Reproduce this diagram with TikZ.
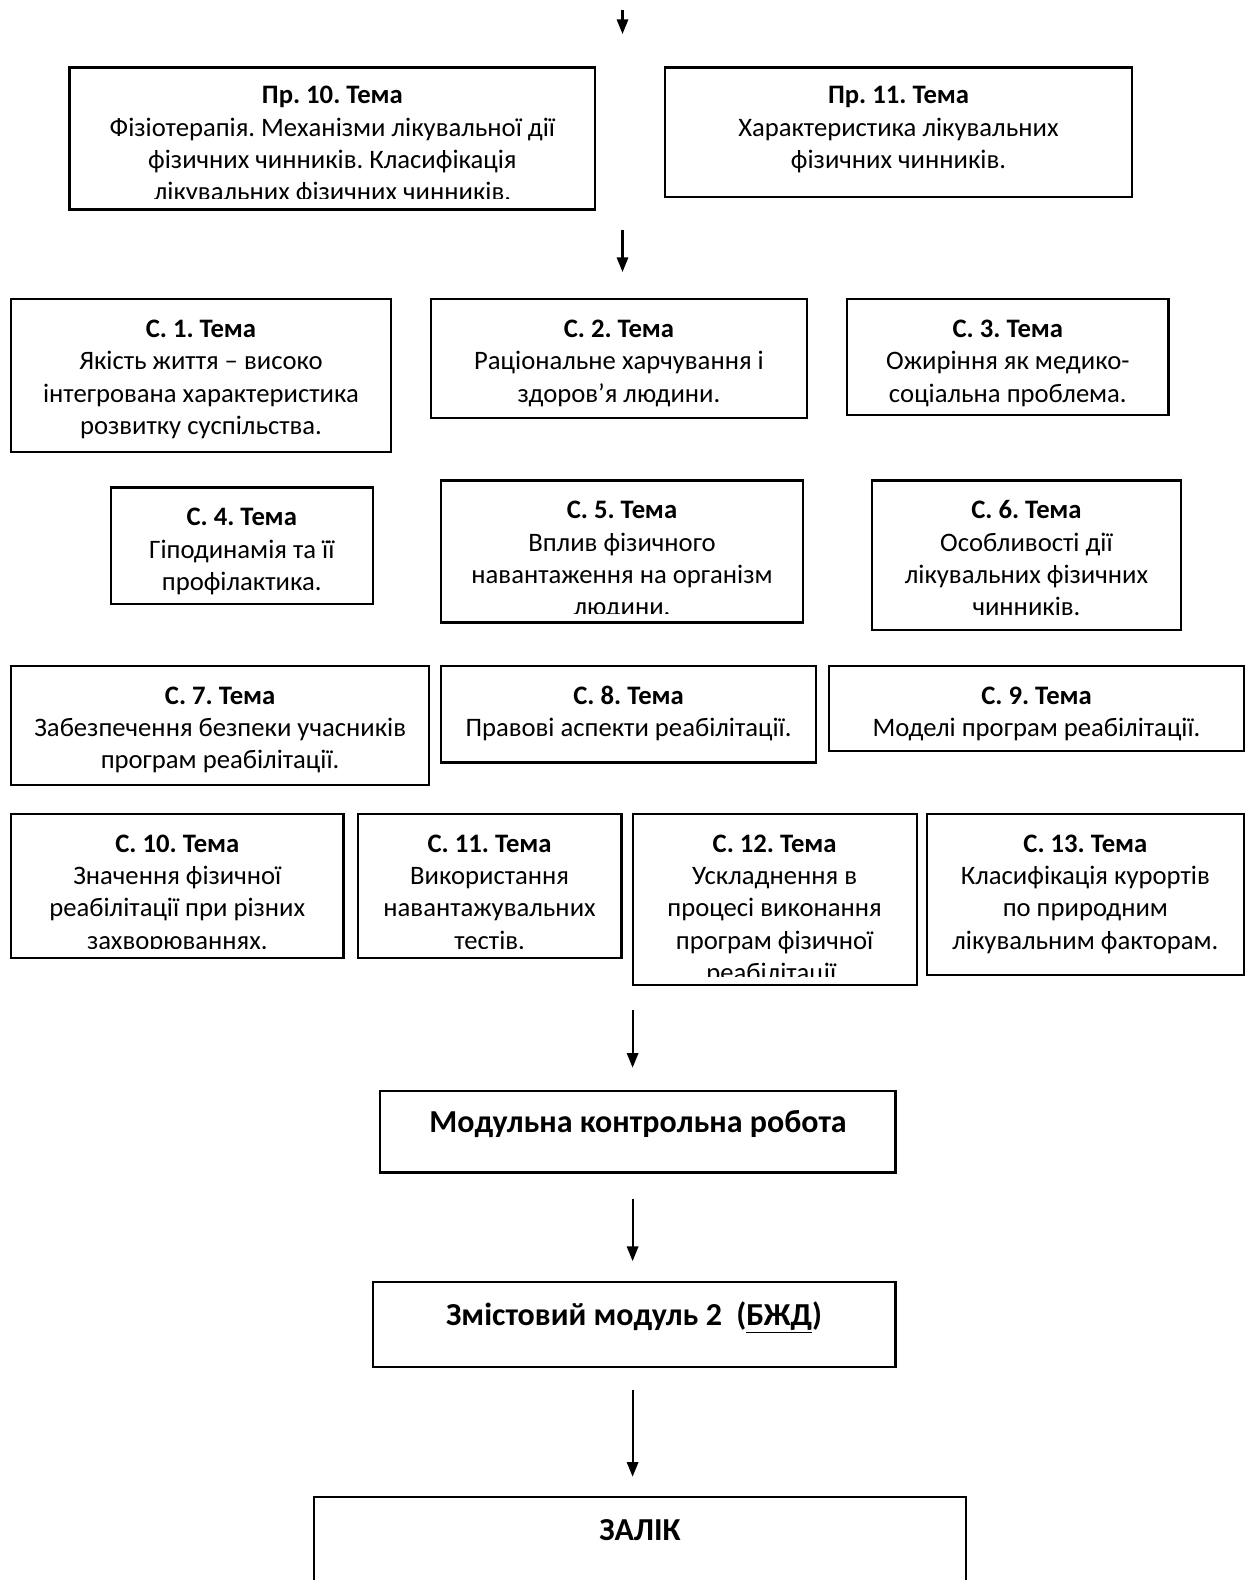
\documentclass[tikz,border=0pt]{standalone}
\usepackage{fontspec}
\setmainfont{Carlito}
\usetikzlibrary{fit,arrows.meta}
\frenchspacing

\tikzset{
  frame/.style={draw=black, line width=1.6pt, inner sep=0pt, outer sep=0pt},
  topictext/.style={inner sep=0pt, align=center,
    font=\fontsize{20}{24.2}\selectfont},
  bigtext/.style={inner sep=0pt, align=center,
    font=\fontsize{24}{28}\selectfont\bfseries},
  flow/.style={line width=1.6pt, -{Triangle[length=11pt,width=8.5pt]}}
}

% [#1 bottom inset of the text area], #2 name, #3 x1, #4 y1, #5 x2, #6 y2,
% #7 first baseline, #8 title, #9 body lines
\newcommand\topicbox[9][1]{%
  \node[frame, fit={(#3,#4) (#5,#6)}] (#2) {};
  \begin{scope}
    \clip (#3+1,#4+1) rectangle (#5-1,#6-#1);
    \node[topictext, anchor=north] (#2-t) at ({(#3+#5)/2},{#7-22.6})
      {\strut\textbf{#8}\\#9};
  \end{scope}
}

\begin{document}
\begin{tikzpicture}[x=0.75pt,y=-0.75pt]
  \useasboundingbox (0,0) rectangle (1248,1580);
  \clip (0,0) rectangle (1248,1580);

  % practical lessons
  \topicbox[10.8]{pr10}{69.5}{67.5}{595.3}{209.5}{103.7}{Пр. 10. Тема}
    {Фізіотерапія. Механізми лікувальної дії\\фізичних чинників. Класифікація\\лікувальних фізичних чинників.}
  \topicbox{pr11}{664.8}{67.5}{1132.2}{197.4}{103.7}{Пр. 11. Тема}
    {Характеристика лікувальних\\фізичних чинників.}

  % independent work, row 1
  \topicbox{s1}{11.1}{299.2}{390.8}{452.3}{337.4}{С. 1. Тема}
    {Якість життя – високо\\інтегрована характеристика\\розвитку суспільства.}
  \topicbox{s2}{431.1}{299.2}{806.8}{418}{337.4}{С. 2. Тема}
    {Раціональне харчування і\\здоров’я людини.}
  \topicbox{s3}{847.1}{299.2}{1168.5}{415}{337.4}{С. 3. Тема}
    {Ожиріння як медико-\\соціальна проблема.}

  % row 2
  \topicbox{s4}{110.8}{487.5}{372.7}{604.4}{525.7}{С. 4. Тема}
    {Гіподинамія та її\\профілактика.}
  \topicbox[9]{s5}{441.2}{480.5}{802.8}{622.5}{518.7}{С. 5. Тема}
    {Вплив фізичного\\навантаження на організм\\людини.}
  \topicbox{s6}{872.3}{480.5}{1180.6}{629.6}{518.7}{С. 6. Тема}
    {Особливості дії\\лікувальних фізичних\\чинників.}

  % row 3
  \topicbox{s7}{11.1}{665.8}{429.1}{784.7}{704}{С. 7. Тема}
    {Забезпечення безпеки учасників\\програм реабілітації.}
  \topicbox{s8}{441.2}{665.8}{815.9}{762.5}{704}{С. 8. Тема}
    {Правові аспекти реабілітації.}
  \topicbox{s9}{829}{665.8}{1244}{751.4}{704}{С. 9. Тема}
    {Моделі програм реабілітації.}

  % row 4
  \topicbox[10]{s10}{11.1}{813.9}{343.5}{958}{852.1}{С. 10. Тема}
    {Значення фізичної\\реабілітації при різних\\захворюваннях.}
  \topicbox[10]{s11}{357.6}{813.9}{621.5}{958}{852.1}{С. 11. Тема}
    {Використання\\навантажувальних\\тестів.}
  \topicbox[9]{s12}{632.6}{813.9}{916.6}{985.1}{852.1}{С. 12. Тема}
    {Ускладнення в\\процесі виконання\\програм фізичної\\реабілітації.}
  \topicbox{s13}{926.7}{813.9}{1244}{975}{852.1}{С. 13. Тема}
    {Класифікація курортів\\по природним\\лікувальним факторам.}

  % final stages
  \node[frame, fit={(379.8,1090.9) (895.5,1172.5)}] (mkr) {};
  \node[bigtext, anchor=base] (mkr-t) at (638,1132.4) {Модульна контрольна робота};

  \node[frame, fit={(372.7,1282.3) (895.5,1366.9)}] (zm2) {};
  \node[bigtext, anchor=base] (zm2-t) at (634,1325) {Змістовий модуль 2~~(\underline{БЖД})};

  \node[frame, fit={(314.3,1496.8) (966,1640)}] (zalik) {};
  \node[bigtext, anchor=base] (zalik-t) at (640,1540) {ЗАЛІК};

  % connectors
  \coordinate (a0s) at (622.5,10);
  \coordinate (a0e) at (622.5,34);
  \coordinate (a1s) at (622.5,229.7);
  \coordinate (a1e) at (622.5,272);
  \coordinate (a2s) at (632.6,1010.3);
  \coordinate (a2e) at (632.6,1067.7);
  \coordinate (a3s) at (632.6,1198.7);
  \coordinate (a3e) at (632.6,1261.1);
  \coordinate (a4s) at (632.6,1390);
  \coordinate (a4e) at (632.6,1476.7);
  \draw[flow] (a0s) -- (a0e);
  \draw[flow] (a1s) -- (a1e);
  \draw[flow] (a2s) -- (a2e);
  \draw[flow] (a3s) -- (a3e);
  \draw[flow] (a4s) -- (a4e);
\end{tikzpicture}
\end{document}
